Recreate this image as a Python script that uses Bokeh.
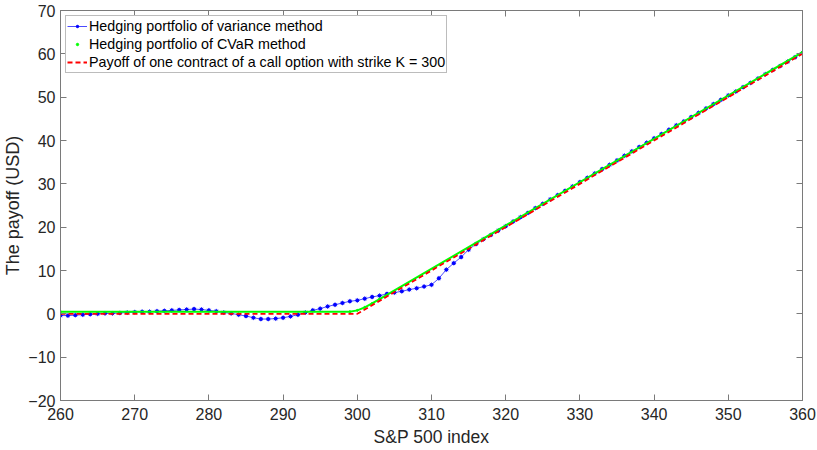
from bokeh.plotting import figure
from bokeh.models import LinearAxis, Legend, LegendItem, FixedTicker, Range1d
from bokeh.embed import file_html
from bokeh.resources import INLINE

# ---- data ----
sp_index = list(range(260, 361))
variance_hedge = [
    -0.4, -0.4, -0.3, -0.2, -0.1, 0.0, 0.1, 0.1, 0.2, 0.3,
    0.4, 0.5, 0.5, 0.6, 0.7, 0.8, 0.9, 1.0, 1.1, 1.0,
    0.8, 0.6, 0.3, 0.1, -0.2, -0.5, -0.9, -1.2, -1.2, -1.1,
    -0.9, -0.6, -0.2, 0.3, 0.8, 1.2, 1.7, 2.1, 2.5, 2.9,
    3.1, 3.5, 3.9, 4.2, 4.6, 4.9, 5.2, 5.6, 5.9, 6.3,
    6.7, 8.2, 10.2, 11.7, 13.1, 14.8, 16.1, 17.2, 18.2, 19.2,
    20.2, 21.3, 22.3, 23.3, 24.4, 25.4, 26.4, 27.4, 28.4, 29.4,
    30.4, 31.4, 32.4, 33.4, 34.4, 35.4, 36.5, 37.5, 38.5, 39.5,
    40.5, 41.5, 42.5, 43.5, 44.4, 45.4, 46.4, 47.4, 48.4, 49.4,
    50.4, 51.3, 52.3, 53.3, 54.3, 55.3, 56.3, 57.2, 58.2, 59.2,
    60.2,
]
cvar_x = [260, 299, 300, 301, 302, 303, 360]
cvar_hedge = [0.5, 0.5, 0.8, 1.5, 2.4, 3.4, 60.4]
payoff_x = [260, 300, 360]
payoff = [0, 0, 60]

x_ticks = [260, 270, 280, 290, 300, 310, 320, 330, 340, 350, 360]
y_ticks = [-20, -10, 0, 10, 20, 30, 40, 50, 60, 70]

FONT = "Liberation Sans"
AX = "#7a7a7a"
TXT = "#262626"

p = figure(width=816, height=449, output_backend="svg", toolbar_location=None,
           x_range=Range1d(260, 360), y_range=Range1d(-20, 70),
           min_border_left=56, min_border_right=14, min_border_top=10,
           min_border_bottom=46)
p.grid.visible = False
p.outline_line_color = AX
p.background_fill_color = "white"
p.border_fill_color = "white"

for ax in (p.xaxis[0], p.yaxis[0]):
    ax.axis_line_color = AX
    ax.major_tick_line_color = AX
    ax.major_tick_in = 6
    ax.major_tick_out = 0
    ax.minor_tick_line_color = None
    ax.major_label_text_font = FONT
    ax.major_label_text_font_size = "16px"
    ax.major_label_text_color = TXT
    ax.axis_label_text_font = FONT
    ax.axis_label_text_font_style = "normal"
    ax.axis_label_text_color = TXT

p.xaxis.ticker = FixedTicker(ticks=x_ticks)
p.yaxis.ticker = FixedTicker(ticks=y_ticks)
p.xaxis.axis_label = "S&P 500 index"
p.yaxis.axis_label = "The payoff (USD)"
p.xaxis.axis_label_text_font_size = "17.5px"
p.yaxis.axis_label_text_font_size = "18px"
p.xaxis.major_label_standoff = 7
p.yaxis.major_label_standoff = 5
p.xaxis.axis_label_standoff = 4
p.yaxis.axis_label_standoff = 2

for loc, tk in (("above", x_ticks), ("right", y_ticks)):
    a = LinearAxis(ticker=FixedTicker(ticks=tk), axis_line_color=AX,
                   major_tick_line_color=AX, major_tick_in=6, major_tick_out=0,
                   minor_tick_line_color=None, major_label_text_font_size="0px",
                   major_label_text_color=None, major_label_standoff=0)
    p.add_layout(a, loc)

blue_line = p.line(sp_index, variance_hedge, line_color="#0000ff", line_width=1, line_alpha=0.7)
blue_star = p.scatter(sp_index, variance_hedge, marker="asterisk", size=5,
                      line_color="#0000ff", line_alpha=0.45)
blue_dot = p.scatter(sp_index, variance_hedge, marker="circle", size=3,
                     fill_color="#0000ff", line_color="#0000ff")

green_line = p.line(cvar_x, cvar_hedge, line_color="#00ff00", line_width=2)
green_dot = p.scatter(cvar_x, cvar_hedge, marker="circle", size=2,
                      fill_color="#00ff00", line_color="#00ff00")

red_line = p.line(payoff_x, payoff, line_color="#ff0000", line_width=1.8, line_dash="5 3")

legend = Legend(items=[
    LegendItem(label="Hedging portfolio of variance method", renderers=[blue_line, blue_star, blue_dot]),
    LegendItem(label="Hedging portfolio of CVaR method", renderers=[green_dot]),
    LegendItem(label="Payoff of one contract of a call option with strike K = 300", renderers=[red_line]),
], location="top_left")
legend.label_text_font = FONT
legend.label_text_font_size = "14.3px"
legend.label_text_color = "#000000"
legend.label_height = 18
legend.label_standoff = 2
legend.glyph_width = 20
legend.glyph_height = 6
legend.padding = 1
legend.spacing = 0
legend.margin = 5
legend.border_line_color = AX
legend.border_line_width = 1
legend.background_fill_alpha = 1
p.add_layout(legend)

open("out.html", "w").write(file_html(p, INLINE))
